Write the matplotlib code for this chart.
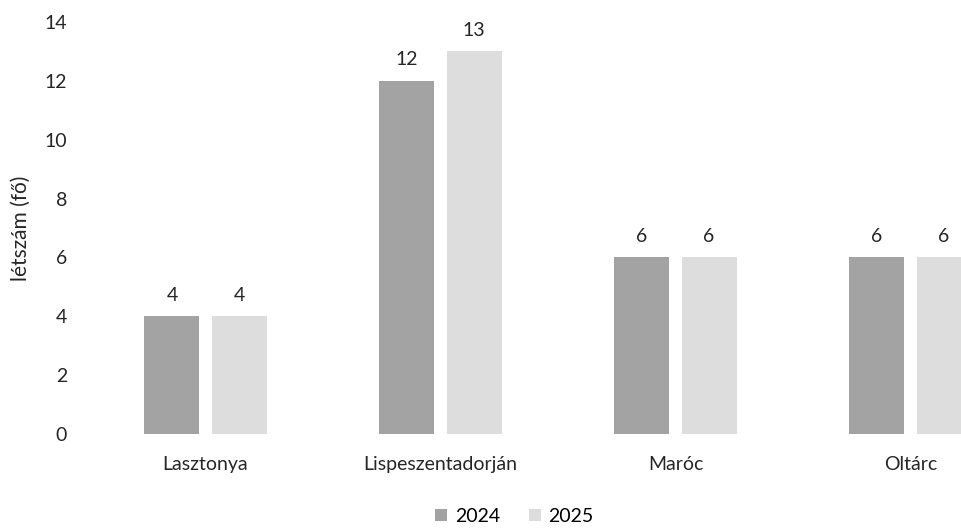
import matplotlib.pyplot as plt
import numpy as np

plt.rcParams['font.family'] = ['Lato', 'DejaVu Sans']

telepulesek = ['Lasztonya', 'Lispeszentadorján', 'Maróc', 'Oltárc']
ev_2024 = [4, 12, 6, 6]
ev_2025 = [4, 13, 6, 6]
evek = ['2024', '2025']

fig = plt.figure(figsize=(9.62, 5.31), dpi=100)
ax = fig.add_axes([0.0915, 0.1827, 0.977, 0.7759])

x = np.arange(len(telepulesek))
w = 0.234
off = 0.143
b1 = ax.bar(x - off, ev_2024, w, color='#a3a3a3', label=evek[0])
b2 = ax.bar(x + off, ev_2025, w, color='#dddddd', label=evek[1])
ax.bar_label(b1, padding=9, fontsize=14, color='#262626')
ax.bar_label(b2, padding=9, fontsize=14, color='#262626')

ax.set_xlim(-0.5, 3.5)
ax.set_ylim(0, 14)
ax.set_yticks(range(0, 15, 2))
ax.set_xticks(x)
ax.set_xticklabels(telepulesek)
ax.tick_params(axis='x', length=0, pad=16, labelsize=14, labelcolor='#262626')
ax.tick_params(axis='y', length=0, pad=15, labelsize=14, labelcolor='#262626')
for s in ax.spines.values():
    s.set_visible(False)
ax.set_ylabel('létszám (fő)', fontsize=15, color='#262626', labelpad=10)

fig.legend(loc='center', bbox_to_anchor=(0.535, 0.028), ncol=2, frameon=False,
           fontsize=14, handlelength=0.6, handleheight=0.6, handletextpad=0.4,
           columnspacing=1.5)

fig.savefig('out.png', dpi=100)
